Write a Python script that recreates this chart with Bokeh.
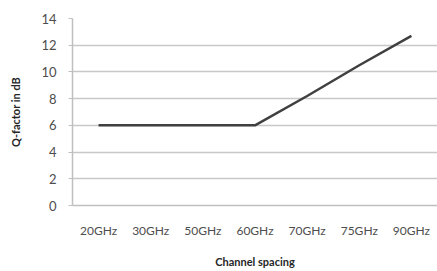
from bokeh.plotting import figure
from bokeh.models import FactorRange, Range1d, FixedTicker
from bokeh.embed import file_html
from bokeh.resources import INLINE

categories = ["20GHz", "30GHz", "50GHz", "60GHz", "70GHz", "75GHz", "90GHz"]
q_factor = [6, 6, 6, 6, 8.2, 10.5, 12.7]
y_ticks = [0, 2, 4, 6, 8, 10, 12, 14]

p = figure(frame_width=365, frame_height=187, x_range=FactorRange(*categories),
           y_range=Range1d(0, 14), output_backend="svg", toolbar_location=None,
           min_border_left=72, min_border_right=0, min_border_top=18, min_border_bottom=2)
p.outline_line_color = None
p.background_fill_color = "white"

p.line(categories, q_factor, line_color="#404040", line_width=2.5)

p.yaxis.ticker = FixedTicker(ticks=y_ticks)
p.ygrid.ticker = FixedTicker(ticks=y_ticks)
p.ygrid.grid_line_color = "#c8c8c8"
p.ygrid.grid_line_width = 1.5
p.xgrid.grid_line_color = None

for ax in (p.xaxis, p.yaxis):
    ax.axis_line_color = "#bfbfbf"
    ax.axis_line_width = 1.5
    ax.major_tick_line_color = "#bfbfbf"
    ax.minor_tick_line_color = None
    ax.major_label_text_font = "Lato"
    ax.major_label_text_font_size = "12px"
    ax.major_label_text_color = "#4d4d4d"
    ax.axis_label_text_font = "Lato"
    ax.axis_label_text_font_style = "bold"
    ax.axis_label_text_font_size = "11px"
    ax.axis_label_text_color = "#262626"

p.yaxis.major_label_text_font_size = "13px"
p.xaxis.major_tick_line_color = None
p.xaxis.major_tick_out = 0
p.yaxis.major_tick_out = 4
p.yaxis.major_tick_in = 0
p.xaxis.major_label_standoff = 17
p.xaxis.axis_label = "Channel spacing"
p.xaxis.axis_label_standoff = 14
p.yaxis.axis_label = "Q-factor in dB"
p.yaxis.axis_label_standoff = 16
p.yaxis.major_label_standoff = 12

open("out.html", "w").write(file_html(p, INLINE))
